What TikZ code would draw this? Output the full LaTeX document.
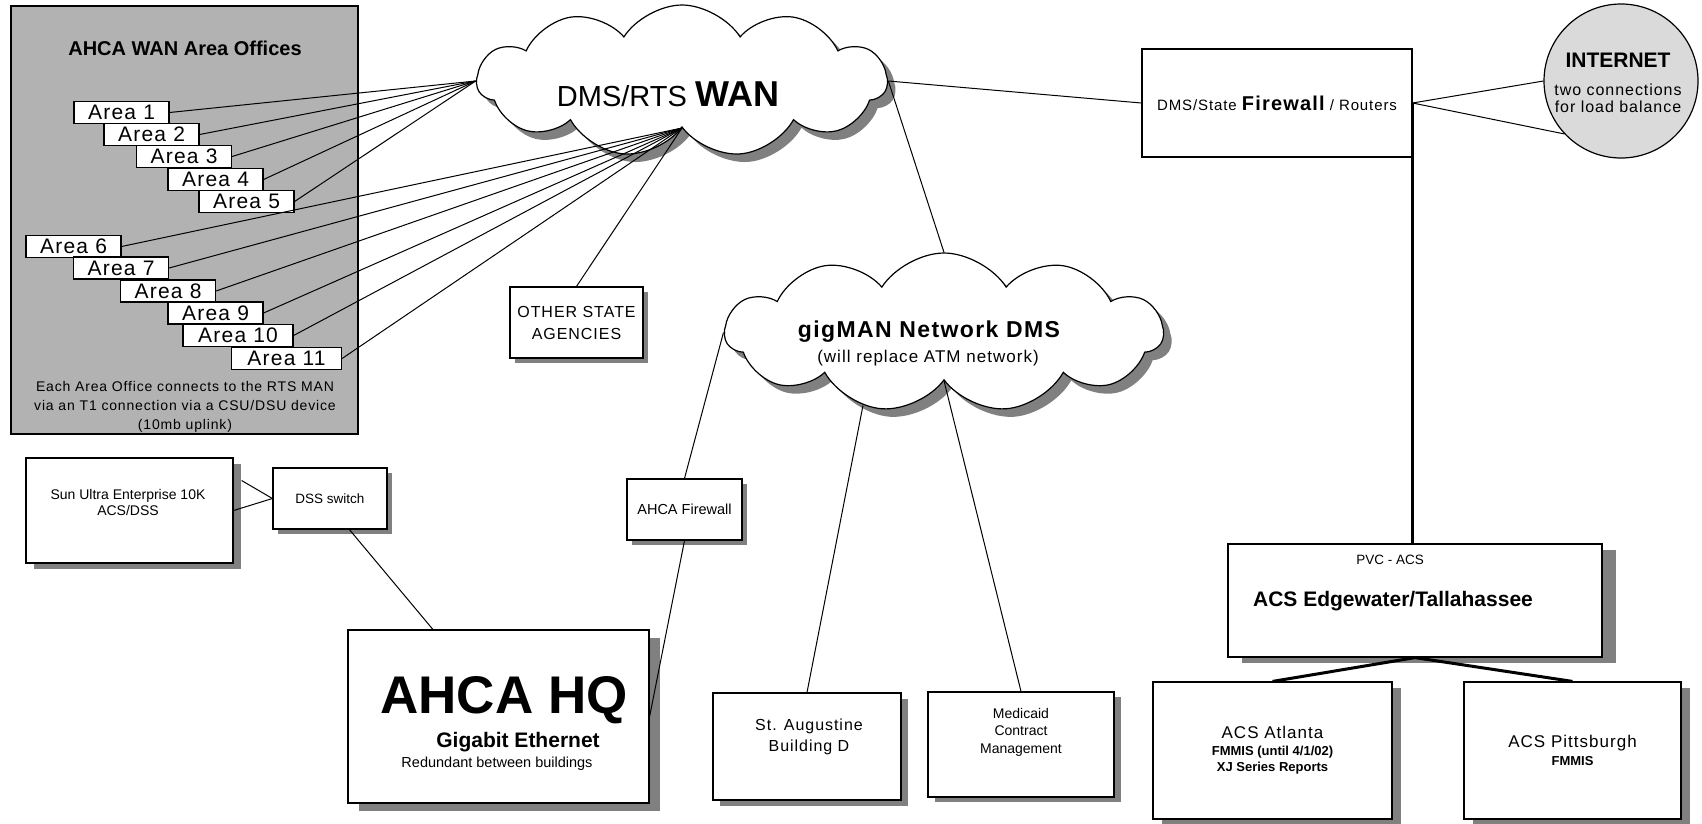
\documentclass[tikz,border=0pt]{standalone}
\usepackage{fontspec}
\setmainfont{Liberation Sans}
\newfontfamily\spaced[LetterSpace=6]{Liberation Sans}
\usetikzlibrary{shapes.symbols,shadows}
\definecolor{panelgray}{RGB}{178,178,178}
\definecolor{netgray}{RGB}{218,218,218}
\definecolor{shadowgray}{RGB}{128,128,128}
\tikzset{
  hostbox/.style={draw, fill=white, line width=1.2pt, inner sep=0pt, align=center},
  shd/.style 2 args={drop shadow={shadow xshift=#1pt, shadow yshift=-#2pt, fill=shadowgray, opacity=1}},
  areabox/.style={hostbox, minimum width=95pt, minimum height=22pt, font=\spaced\fontsize{21}{21}\selectfont},
  netcloud/.style={cloud, cloud puffs=11, cloud puff arc=115, cloud ignores aspect, draw, fill=white, line width=1.2pt, inner sep=0pt, shd={8}{8}},
  wire/.style={line width=1pt},
  trunk/.style={line width=3pt},
}
\begin{document}
\begin{tikzpicture}[x=1pt, y=-1pt]
  \fill[white] (0,0) rectangle (1702,823);
  \useasboundingbox (0,0) rectangle (1702,823);

  % area offices
  \node[draw, fill=panelgray, line width=1.2pt, minimum width=347pt, minimum height=428pt] (panel) at (184.5,220) {};
  \node[anchor=base, font=\bfseries\fontsize{20}{20}\selectfont] (paneltitle) at (185,55) {AHCA WAN Area Offices};
  \node[areabox] (a1) at (121.5,112.5) {Area 1};
  \node[areabox] (a2) at (151.5,134.5) {Area 2};
  \node[areabox] (a3) at (184,156.5) {Area 3};
  \node[areabox] (a4) at (215.5,179.5) {Area 4};
  \node[areabox] (a5) at (246.5,201.5) {Area 5};
  \node[areabox] (a6) at (73.5,246.5) {Area 6};
  \node[areabox] (a7) at (121,268) {Area 7};
  \node[areabox] (a8) at (168,291) {Area 8};
  \node[areabox] (a9) at (215.5,313) {Area 9};
  \node[areabox, minimum width=110pt] (a10) at (238,335.5) {Area 10};
  \node[areabox, minimum width=110pt] (a11) at (286.5,358.5) {Area 11};
  \node[align=center, font=\spaced\fontsize{14}{19}\selectfont] (panelnote) at (185,407) {Each Area Office connects to the RTS MAN\\via an T1 connection via a CSU/DSU device\\(10mb uplink)};

  % clouds
  \node[netcloud, minimum width=410pt, minimum height=152pt] (wan) at (682,81) {};
  \node[anchor=base] (wanlabel) at (668,106) {\fontsize{29}{29}\selectfont DMS/RTS \bfseries\fontsize{36}{36}\selectfont WAN};
  \node[netcloud, minimum width=438pt, minimum height=159pt] (gig) at (944,332.5) {};
  \node[anchor=base, font=\spaced\bfseries\fontsize{23}{23}\selectfont] (giglabel) at (929,337) {gigMAN Network DMS};
  \node[anchor=base, font=\spaced\fontsize{17}{17}\selectfont] (gignote) at (928,362) {(will replace ATM network)};

  % firewall and internet
  \node[hostbox, minimum width=270pt, minimum height=108pt, font=\spaced\fontsize{15}{15}\selectfont] (fw) at (1277,103) {DMS/State {\bfseries\fontsize{20}{20}\selectfont Firewall} / Routers};
  \node[circle, draw, fill=netgray, line width=1.2pt, minimum size=154pt, inner sep=0pt] (inet) at (1621,81) {};
  \node[anchor=base, font=\bfseries\fontsize{21}{21}\selectfont] (inettitle) at (1618,67) {INTERNET};
  \node[anchor=base, font=\spaced\fontsize{16}{16}\selectfont] (inetnote1) at (1618,95) {two connections};
  \node[anchor=base, font=\spaced\fontsize{16}{16}\selectfont] (inetnote2) at (1618,112) {for load balance};

  % state side
  \node[hostbox, minimum width=133pt, minimum height=71pt, shd={5}{5}, font=\spaced\fontsize{16}{22}\selectfont] (other) at (576.5,322.5) {OTHER STATE\\AGENCIES};
  \node[hostbox, minimum width=207pt, minimum height=105pt, shd={8}{6}] (sun) at (129.5,510.5) {};
  \node[align=center, font=\fontsize{14}{16}\selectfont] (suntext) at (128,502) {Sun Ultra Enterprise 10K\\ACS/DSS};
  \node[hostbox, minimum width=114pt, minimum height=61pt, shd={5}{5}, font=\fontsize{13.5}{13.5}\selectfont] (dss) at (330,498.5) {DSS switch};
  \node[hostbox, minimum width=115pt, minimum height=61pt, shd={5}{5}, font=\fontsize{14.5}{14.5}\selectfont] (ahcafw) at (684.5,509.5) {AHCA Firewall};
  \node[hostbox, minimum width=301pt, minimum height=173pt, shd={11}{8}] (hq) at (498.5,716.5) {};
  \node[anchor=base, font=\bfseries\fontsize{53}{53}\selectfont] (hqtitle) at (504,713) {AHCA HQ};
  \node[anchor=base, font=\bfseries\fontsize{21}{21}\selectfont] (hqnet) at (518,747) {Gigabit Ethernet};
  \node[anchor=base, font=\fontsize{14.5}{14.5}\selectfont] (hqnote) at (497,767) {Redundant between buildings};
  \node[hostbox, minimum width=188pt, minimum height=107pt, shd={7}{6}] (staug) at (807,746.5) {};
  \node[align=center, font=\spaced\fontsize{16}{21}\selectfont] (staugtext) at (809,736.5) {St. Augustine\\Building D};
  \node[hostbox, minimum width=186pt, minimum height=105pt, shd={7}{5}] (medic) at (1021,744.5) {};
  \node[align=center, font=\fontsize{14}{17.5}\selectfont] (medictext) at (1021,732) {Medicaid\\Contract\\Management};

  % ACS side
  \node[hostbox, minimum width=374pt, minimum height=113pt, shd={14}{6}] (acs) at (1415,600.5) {};
  \node[anchor=base, font=\fontsize{13.5}{13.5}\selectfont] (acspvc) at (1390,564) {PVC - ACS};
  \node[anchor=base, font=\bfseries\fontsize{21}{21}\selectfont] (acsname) at (1393,606) {ACS Edgewater/Tallahassee};
  \node[hostbox, minimum width=239pt, minimum height=137pt, shd={9}{6}, font=\bfseries\fontsize{13}{16.5}\selectfont] (atl) at (1272.5,750.5) {{\mdseries\spaced\fontsize{17}{17}\selectfont ACS Atlanta}\\FMMIS (until 4/1/02)\\XJ Series Reports};
  \node[hostbox, minimum width=217pt, minimum height=137pt, shd={9}{6}, font=\bfseries\fontsize{13}{18}\selectfont] (pitt) at (1572.5,750.5) {{\mdseries\spaced\fontsize{17}{17}\selectfont ACS Pittsburgh}\\FMMIS};

  % links
  \draw[wire] (a1.east) -- (wan.west);
  \draw[wire] (a2.east) -- (wan.west);
  \draw[wire] (a3.east) -- (wan.west);
  \draw[wire] (a4.east) -- (wan.west);
  \draw[wire] (a5.east) -- (wan.west);
  \draw[wire] (a6.east) -- (wan.south);
  \draw[wire] (a7.east) -- (wan.south);
  \draw[wire] (a8.east) -- (wan.south);
  \draw[wire] (a9.east) -- (wan.south);
  \draw[wire] (a10.east) -- (wan.south);
  \draw[wire] (a11.east) -- (wan.south);
  \draw[wire] (wan.south) -- (other.north);
  \draw[wire] (wan.east) -- (fw.west);
  \draw[wire] (wan.east) -- (gig.north);
  \draw[wire] (fw.east) -- (inet.west);
  \draw[wire] (fw.east) -- (inet.223);
  \draw[trunk] (fw.east) -- (fw.east |- acs.north);
  \draw[trunk] (acs.south) -- (atl.north);
  \draw[trunk] (acs.south) -- (pitt.north);
  \draw[wire] (gig.west) -- (ahcafw.north);
  \draw[wire] (ahcafw.south) -- (hq.east);
  \draw[wire] (gig.222) -- (staug.north);
  \draw[wire] (gig.south) -- (medic.north);
  \draw[wire] (dss.302) -- (hq.127);
  \draw[wire] (sun.east) -- (dss.west);
  \draw[wire] ([shift={(8pt,30pt)}]sun.east) -- (dss.west);
\end{tikzpicture}
\end{document}
